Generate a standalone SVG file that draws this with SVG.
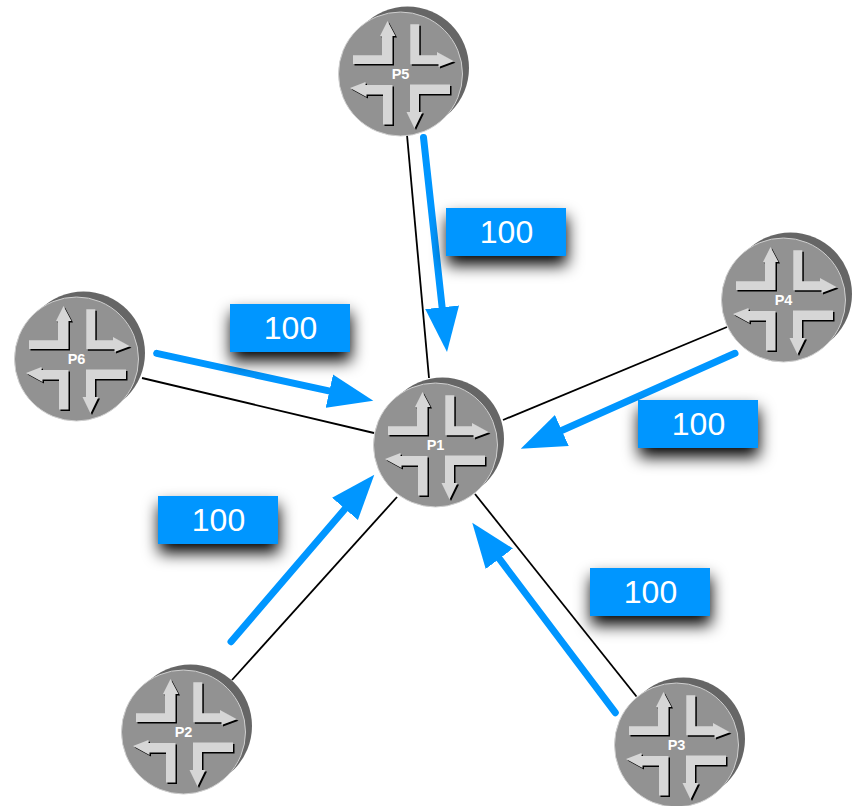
<svg xmlns="http://www.w3.org/2000/svg" xmlns:xlink="http://www.w3.org/1999/xlink" width="859" height="806" viewBox="0 0 859 806">
<style>
.link{stroke:#000;stroke-width:1.8;fill:none}
.flow{stroke:#0096ff;stroke-width:7;stroke-linecap:round;fill:none;marker-end:url(#head)}
.box{fill:#0096ff;filter:url(#shadow)}
.val{font:32px "Liberation Sans",Arial,sans-serif;fill:#fff;text-anchor:middle}
.name{font:bold 14.5px "Liberation Sans",Arial,sans-serif;fill:#fff;text-anchor:middle}
.arw{fill:#d6d6d6}
.arws{fill:#000}
</style>
<defs>
<marker id="head" markerUnits="userSpaceOnUse" markerWidth="46" markerHeight="36" refX="10" refY="18" orient="auto" viewBox="0 0 46 36"><path d="M0,1 L45,18 L0,35 z" fill="#0096ff"/></marker>
<filter id="shadow" x="-30%" y="-60%" width="160%" height="280%"><feDropShadow dx="1" dy="9" stdDeviation="8" flood-color="#000" flood-opacity="1"/></filter>
<g id="arrows">
<path d="M-47.5,-18.7 L-47.5,-10 L-8,-10 L-8,-38 L-5,-38 L-13,-53 L-20.5,-38 L-18.5,-38 L-18.5,-18.7 z"/>
<path d="M9.8,-49.7 L18.8,-49.7 L18.8,-18.7 L36.5,-18.7 L36.5,-22 L53.5,-12.7 L38,-7 L38,-9.7 L9.8,-9.7 z"/>
<path d="M-50.500,14 L-35,8 L-35,11 L-8,11 L-8,50.500 L-17.500,50.500 L-17.500,20.500 L-34,20.500 L-34,23 z"/>
<path d="M49.500,10.500 L49.500,20 L18.500,20 L18.500,38 L22,38 L14,54.500 L6,38 L9.500,38 L9.500,10.500 z"/>
</g>
<g id="router">
<circle cx="7" cy="-6" r="61.500" fill="#666"/>
<circle r="62" fill="#929292" stroke="#cfcfcf" stroke-width="1"/>
<use xlink:href="#arrows" href="#arrows" class="arws" transform="translate(1.500,1.500)"/>
<use xlink:href="#arrows" href="#arrows" class="arw"/>
</g>
</defs>
<rect width="859" height="806" fill="#fff"/>
<g id="connectors">
<line class="link" x1="407" y1="135" x2="429" y2="378"/>
<line class="link" x1="727" y1="327" x2="503" y2="420"/>
<line class="link" x1="142" y1="378" x2="374" y2="433"/>
<line class="link" x1="232" y1="680" x2="397" y2="497"/>
<line class="link" x1="636.500" y1="696.500" x2="475" y2="494"/>
<line class="flow" x1="423.500" y1="137.500" x2="443.200" y2="317.200"/>
<line class="flow" x1="156.700" y1="353.300" x2="339.100" y2="393.200"/>
<line class="flow" x1="735" y1="353.300" x2="552.700" y2="434.500"/>
<line class="flow" x1="231" y1="641.700" x2="351.500" y2="501.300"/>
<line class="flow" x1="615.300" y1="712.700" x2="493.300" y2="550.700"/>
</g>
<g id="P1"><use xlink:href="#router" href="#router" x="435.500" y="445"/><text class="name" x="435.500" y="450">P1</text></g>
<g id="P2"><use xlink:href="#router" href="#router" x="183.500" y="732"/><text class="name" x="183.500" y="737">P2</text></g>
<g id="P3"><use xlink:href="#router" href="#router" x="676.500" y="745"/><text class="name" x="676.500" y="750">P3</text></g>
<g id="P4"><use xlink:href="#router" href="#router" x="783.500" y="300"/><text class="name" x="783.500" y="305">P4</text></g>
<g id="P5"><use xlink:href="#router" href="#router" x="400.500" y="74"/><text class="name" x="400.500" y="79">P5</text></g>
<g id="P6"><use xlink:href="#router" href="#router" x="76.500" y="359"/><text class="name" x="76.500" y="364">P6</text></g>
<g id="label-p5"><rect class="box" x="446" y="208" width="120" height="48"/><text class="val" x="506.500" y="243">100</text></g>
<g id="label-p6"><rect class="box" x="230" y="304" width="120" height="48"/><text class="val" x="290.500" y="339">100</text></g>
<g id="label-p4"><rect class="box" x="638" y="400" width="120" height="48"/><text class="val" x="698.500" y="435">100</text></g>
<g id="label-p2"><rect class="box" x="158" y="496" width="120" height="48"/><text class="val" x="218.500" y="531">100</text></g>
<g id="label-p3"><rect class="box" x="590" y="568" width="120" height="48"/><text class="val" x="650.500" y="603">100</text></g>
</svg>
